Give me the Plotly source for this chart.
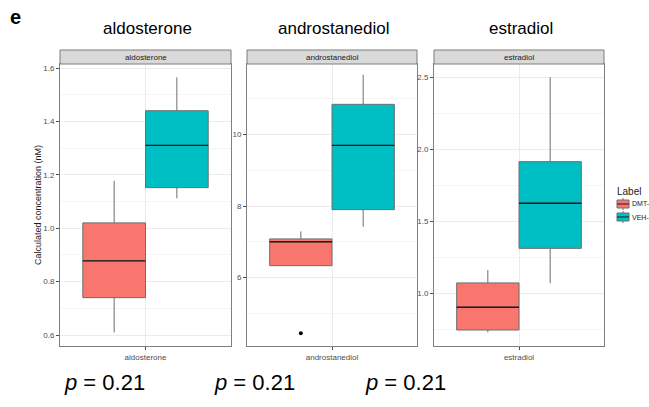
import plotly.graph_objects as go

categories = ["aldosterone", "androstanediol", "estradiol"]
groups = ["DMT-", "VEH-"]
colors = ["#F8766D", "#00BFC4"]

dmt_lo = [0.61, 6.33, 0.729]
dmt_q1 = [0.74, 6.33, 0.745]
dmt_med = [0.878, 7.0, 0.903]
dmt_q3 = [1.02, 7.08, 1.072]
dmt_hi = [1.178, 7.29, 1.162]

veh_lo = [1.112, 7.42, 1.069]
veh_q1 = [1.152, 7.90, 1.312]
veh_med = [1.31, 9.70, 1.625]
veh_q3 = [1.44, 10.85, 1.914]
veh_hi = [1.565, 11.68, 2.50]

outlier_panel = [1]
outlier_value = [4.44]

y_ranges = [[0.559, 1.615], [4.08, 11.98], [0.634, 2.592]]
y_dticks = [0.2, 2, 0.5]
y_minor = [0.1, 1, 0.25]
y_formats = [".1f", "d", ".1f"]
p_values = ["0.21", "0.21", "0.21"]

W, H = 649, 407
panels_px = [(60, 231), (247, 417), (434, 604)]
top_px, bot_px, strip_px = 64, 346, 50

def fx(px):
    return px / W

def fy(py):
    return (H - py) / H

stats = [
    (dmt_lo, dmt_q1, dmt_med, dmt_q3, dmt_hi),
    (veh_lo, veh_q1, veh_med, veh_q3, veh_hi),
]
offsets = [-0.22, 0.22]
bw = 0.44

fig = go.Figure()
for i, cat in enumerate(categories):
    xa = "x" if i == 0 else f"x{i+1}"
    ya = "y" if i == 0 else f"y{i+1}"
    for g in range(2):
        lo, q1, med, q3, hi = stats[g]
        fig.add_trace(go.Box(
            x=[offsets[g]], q1=[q1[i]], median=[med[i]], q3=[q3[i]],
            lowerfence=[lo[i]], upperfence=[hi[i]],
            width=bw, whiskerwidth=0, fillcolor=colors[g],
            line=dict(color="#6e6e6e", width=1),
            name=groups[g], showlegend=False,
            boxpoints=False, xaxis=xa, yaxis=ya, hoverinfo="skip",
        ))
        fig.add_trace(go.Scatter(
            x=[offsets[g] - bw / 2, offsets[g] + bw / 2], y=[med[i], med[i]],
            mode="lines", line=dict(color="#1a1a1a", width=1.3),
            showlegend=False, xaxis=xa, yaxis=ya, hoverinfo="skip",
        ))
    for k, pnl in enumerate(outlier_panel):
        if pnl == i:
            fig.add_trace(go.Scatter(
                x=[offsets[0]], y=[outlier_value[k]], mode="markers",
                marker=dict(color="black", size=4), showlegend=False,
                xaxis=xa, yaxis=ya, hoverinfo="skip",
            ))

layout = dict(
    width=W, height=H, margin=dict(l=0, r=0, t=0, b=0),
    paper_bgcolor="white", plot_bgcolor="white",
    font=dict(family="Liberation Sans, Arial, sans-serif"),
    showlegend=False,
)
shapes = []
annotations = []
for i, cat in enumerate(categories):
    sfx = "" if i == 0 else str(i + 1)
    x0, x1 = panels_px[i]
    layout["xaxis" + sfx] = dict(
        domain=[fx(x0), fx(x1)], range=[-0.6, 0.6], anchor="y" + sfx,
        tickvals=[0], ticktext=[cat], tickfont=dict(size=8, color="#4d4d4d"),
        ticks="outside", ticklen=3, tickcolor="#4d4d4d",
        showgrid=True, gridcolor="#ebebeb", gridwidth=1, zeroline=False,
        showline=True, mirror=True, linecolor="#7f7f7f", linewidth=1,
        fixedrange=True,
    )
    layout["yaxis" + sfx] = dict(
        domain=[fy(bot_px), fy(top_px)], range=y_ranges[i], anchor="x" + sfx,
        dtick=y_dticks[i], tickformat=y_formats[i],
        tickfont=dict(size=8, color="#4d4d4d"),
        ticks="outside", ticklen=3, tickcolor="#4d4d4d",
        showgrid=True, gridcolor="#ebebeb", gridwidth=1, zeroline=False,
        minor=dict(dtick=y_minor[i], showgrid=True, gridcolor="#f5f5f5", gridwidth=1),
        showline=True, mirror=True, linecolor="#7f7f7f", linewidth=1,
        fixedrange=True,
    )
    shapes.append(dict(type="rect", xref="paper", yref="paper",
                       x0=fx(x0), x1=fx(x1), y0=fy(top_px), y1=fy(strip_px),
                       fillcolor="#d9d9d9", line=dict(color="#7f7f7f", width=1)))
    annotations.append(dict(text=cat, xref="paper", yref="paper",
                            x=fx((x0 + x1) / 2), y=fy((top_px + strip_px) / 2),
                            showarrow=False, font=dict(size=8, color="#1a1a1a"),
                            xanchor="center", yanchor="middle"))
    annotations.append(dict(text=cat, xref="paper", yref="paper",
                            x=fx((x0 + x1) / 2 + 2), y=fy(29),
                            showarrow=False, font=dict(size=17, color="black"),
                            xanchor="center", yanchor="middle"))

p_centers = [104, 255, 405]
for i, pv in enumerate(p_values):
    annotations.append(dict(text=f"<i>p</i> = {pv}", xref="paper", yref="paper",
                            x=fx(p_centers[i]), y=fy(382), showarrow=False,
                            font=dict(size=22, color="black"),
                            xanchor="center", yanchor="middle"))

annotations.append(dict(text="<b>e</b>", xref="paper", yref="paper",
                        x=fx(8), y=fy(17), showarrow=False,
                        font=dict(size=20, color="black"),
                        xanchor="left", yanchor="middle"))
annotations.append(dict(text="Calculated concentration (nM)", xref="paper", yref="paper",
                        x=fx(38), y=fy(205), showarrow=False, textangle=-90,
                        font=dict(size=9, color="#1a1a1a"),
                        xanchor="center", yanchor="middle"))

# manual legend (ggplot style)
annotations.append(dict(text="Label", xref="paper", yref="paper",
                        x=fx(615), y=fy(191), showarrow=False,
                        font=dict(size=10, color="#1a1a1a"),
                        xanchor="left", yanchor="middle"))
key_tops = [200, 213]
for g, name in enumerate(groups):
    t = key_tops[g]
    shapes.append(dict(type="line", xref="paper", yref="paper",
                       x0=fx(623), x1=fx(623), y0=fy(t - 2), y1=fy(t + 10),
                       line=dict(color="#6e6e6e", width=1)))
    shapes.append(dict(type="rect", xref="paper", yref="paper",
                       x0=fx(617), x1=fx(629), y0=fy(t + 8), y1=fy(t),
                       fillcolor=colors[g], line=dict(color="#6e6e6e", width=1)))
    shapes.append(dict(type="line", xref="paper", yref="paper",
                       x0=fx(617), x1=fx(629), y0=fy(t + 4), y1=fy(t + 4),
                       line=dict(color="#1a1a1a", width=1)))
    annotations.append(dict(text=name, xref="paper", yref="paper",
                            x=fx(629.5), y=fy(t + 4), showarrow=False,
                            font=dict(size=7, color="#1a1a1a"),
                            xanchor="left", yanchor="middle"))

layout["shapes"] = shapes
layout["annotations"] = annotations
fig.update_layout(**layout)
fig.write_html("out.html", config={"displayModeBar": False},
               post_script="document.body.style.margin='0';")
